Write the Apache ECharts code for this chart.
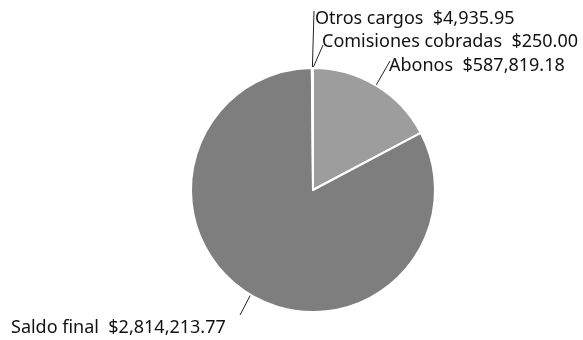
<!DOCTYPE html>
<html>
<head>
<meta charset="utf-8">
<style>
  html, body { margin: 0; padding: 0; background: #fff; }
  #chart { width: 583px; height: 340px; }
</style>
<script src="https://cdn.jsdelivr.net/npm/echarts@6/dist/echarts.min.js"></script>
</head>
<body>
<div id="chart"></div>
<script>
const categories = ['Abonos', 'Saldo final', 'Otros cargos', 'Comisiones cobradas'];
const amounts = [587819.18, 2814213.77, 4935.95, 250.00];
const sliceColors = ['#9d9d9d', '#7e7e7e', '#e8e8e8', '#e8e8e8'];

// where each label sits (left edge, middle) and where its leader line ends
const labelSpots = [
  { x: 389, y: 66, end: [390, 61] },
  { x: 11, y: 328, end: [240, 315] },
  { x: 315, y: 19, end: [314, 11] },
  { x: 322, y: 42, end: [323, 45] }
];

const money = v => '$' + v.toLocaleString('en-US', { minimumFractionDigits: 2, maximumFractionDigits: 2 });

const chart = echarts.init(document.getElementById('chart'));
chart.setOption({
  animation: false,
  series: [
    {
      type: 'pie',
      center: [313, 190],
      radius: 122,
      startAngle: 90,
      clockwise: true,
      avoidLabelOverlap: false,
      itemStyle: { borderColor: '#fff', borderWidth: 2 },
      label: {
        show: true,
        position: 'outside',
        formatter: p => p.name + '  ' + money(p.value),
        color: '#111',
        fontFamily: 'Noto Sans',
        fontSize: 18
      },
      labelLine: { show: true, lineStyle: { color: '#222', width: 1 } },
      labelLayout: function (params) {
        const s = labelSpots[params.dataIndex];
        const start = params.labelLinePoints ? params.labelLinePoints[0] : s.end;
        return {
          x: s.x,
          y: s.y,
          align: 'left',
          verticalAlign: 'middle',
          hideOverlap: false,
          labelLinePoints: [start, s.end, s.end]
        };
      },
      data: categories.map((name, i) => ({
        name: name,
        value: amounts[i],
        itemStyle: { color: sliceColors[i] }
      }))
    }
  ]
});
</script>
</body>
</html>
